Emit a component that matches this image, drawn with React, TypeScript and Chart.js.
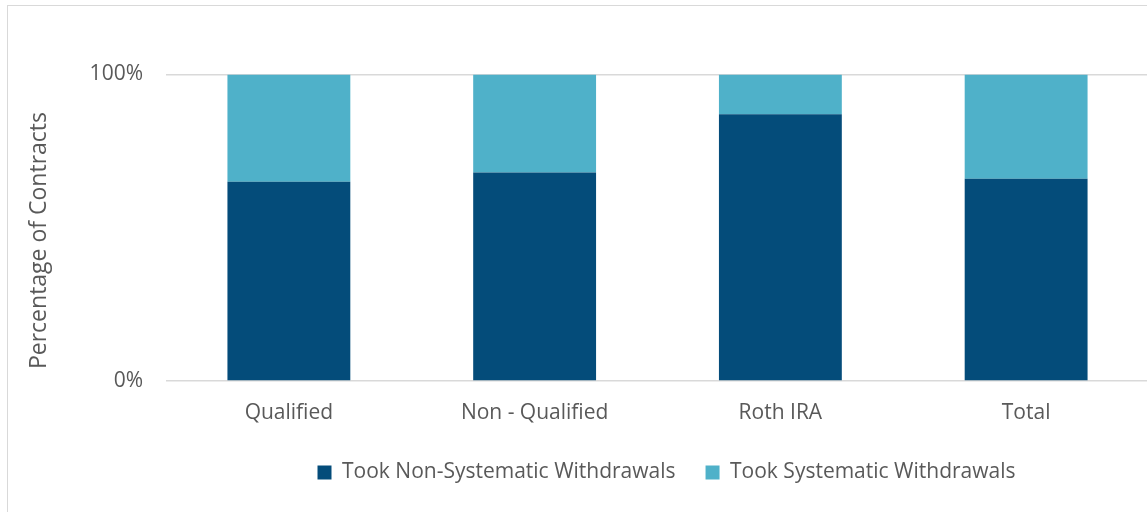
import React, { useEffect, useRef } from "react";
import { Chart, registerables } from "chart.js";

Chart.register(...registerables);

const categories = ["Qualified", "Non - Qualified", "Roth IRA", "Total"];
const nonSystematic = [65, 68, 87, 66];
const systematic = [35, 32, 13, 34];
const seriesLabels = ["Took Non-Systematic Withdrawals", "Took Systematic Withdrawals"];
const yTicks = [0, 100];

const FONT = "'Open Sans', sans-serif";
const TEXT = "#595959";

const borderPlugin = {
  id: "outerBorder",
  beforeDraw(chart: any) {
    const ctx = chart.ctx;
    ctx.save();
    ctx.fillStyle = "#ffffff";
    ctx.fillRect(0, 0, chart.width, chart.height);
    ctx.strokeStyle = "#d9d9d9";
    ctx.lineWidth = 1;
    ctx.strokeRect(7.5, 5.5, chart.width + 20, chart.height + 20);
    ctx.restore();
  },
};

const legendShift = {
  id: "legendShift",
  afterLayout(chart: any) {
    if (chart.legend) {
      chart.legend.left += 9;
      chart.legend.right += 9;
    }
  },
};

export default function App() {
  const ref = useRef<HTMLCanvasElement | null>(null);

  useEffect(() => {
    if (!ref.current) return;
    const chart = new Chart(ref.current, {
      type: "bar",
      data: {
        labels: categories,
        datasets: [
          {
            label: seriesLabels[0],
            data: nonSystematic,
            backgroundColor: "#044c7a",
            borderWidth: 0,
            barPercentage: 0.5,
            categoryPercentage: 1,
          },
          {
            label: seriesLabels[1],
            data: systematic,
            backgroundColor: "#4fb1c9",
            borderWidth: 0,
            barPercentage: 0.5,
            categoryPercentage: 1,
          },
        ],
      },
      options: {
        animation: false,
        responsive: false,
        layout: { padding: { top: 74.5, right: 11, bottom: 19, left: 0 } },
        plugins: {
          legend: {
            position: "bottom",
            fullSize: false,
            labels: {
              boxWidth: 14,
              boxHeight: 14,
              padding: 30,
              color: TEXT,
              font: { family: FONT, size: 21 },
            },
          },
          tooltip: { enabled: false },
        },
        scales: {
          x: {
            stacked: true,
            afterFit: (s: any) => {
              s.height = 51;
            },
            grid: { display: false, drawTicks: false },
            border: { display: false },
            ticks: {
              color: TEXT,
              font: { family: FONT, size: 21 },
              padding: 19,
              maxRotation: 0,
            },
          },
          y: {
            stacked: true,
            min: 0,
            max: 100,
            afterFit: (s: any) => {
              s.width = 166;
            },
            afterBuildTicks: (s: any) => {
              s.ticks = yTicks.map((v) => ({ value: v }));
            },
            grid: { color: "#d9d9d9", lineWidth: 1.5, drawTicks: false },
            border: { display: false },
            ticks: {
              color: TEXT,
              font: { family: FONT, size: 21 },
              padding: 23,
              callback: (v: any) => v + "%",
            },
            title: {
              display: true,
              text: "  Percentage of Contracts",
              align: "start",
              color: TEXT,
              font: { family: FONT, size: 23 },
              padding: { top: 26, bottom: 0 },
            },
          },
        },
      },
      plugins: [borderPlugin, legendShift],
    });
    return () => chart.destroy();
  }, []);

  return (
    <div style={{ position: "fixed", left: 0, top: 0, width: 1147, height: 512, overflow: "hidden", background: "#fff" }}>
      <canvas ref={ref} width={1160} height={512} style={{ display: "block" }} />
    </div>
  );
}
